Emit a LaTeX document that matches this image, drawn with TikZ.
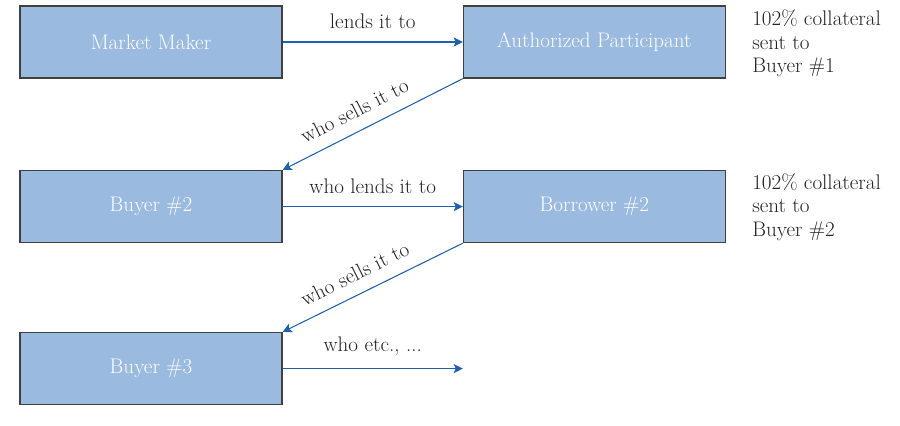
\documentclass[tikz,border=0pt]{standalone}
\usepackage{tikz}
\usetikzlibrary{arrows.meta, positioning}
\definecolor{BoxBlue}{HTML}{9BBADF}
\definecolor{BoxEdge}{HTML}{404040}
\definecolor{FlowBlue}{HTML}{1D62AE}
\definecolor{LabelGray}{HTML}{222222}
\tikzset{
  partybox/.style={rectangle, draw=BoxEdge, line width=0.9pt, fill=BoxBlue, text=white, minimum width=6.55cm, minimum height=1.8cm, font=\fontsize{15}{17}\selectfont, align=center, inner sep=0pt},
  flowarrow/.style={-{Stealth[length=6.5pt,width=6.5pt,inset=1.5pt]}, line width=0.75pt, FlowBlue},
  flowlabel/.style={font=\fontsize{15}{17}\selectfont, text=LabelGray},
  notetext/.style={font=\fontsize{15}{16.7}\selectfont, text=LabelGray, align=left, anchor=north west, inner sep=0pt}
}

\begin{document}
\begin{tikzpicture}
  \useasboundingbox (0,0) rectangle (22.5,10.625);

  % Lending chain
  \node[partybox] (maker) at (3.775,9.575) {Market Maker};
  \node[partybox] (ap) at (14.86,9.575) {Authorized Participant};
  \node[partybox] (buyerB) at (3.775,5.46) {Buyer \#2};
  \node[partybox] (borrowB) at (14.86,5.46) {Borrower \#2};
  \node[partybox] (buyerC) at (3.775,1.41) {Buyer \#3};
  \coordinate (etcEnd) at (buyerC.east -| borrowB.west);

  \draw[flowarrow] (maker.east) -- node[flowlabel, above=5.5pt] {lends it to} (ap.west);
  \draw[flowarrow] (ap.south west) -- node[flowlabel, pos=0.55, above=5.5pt, sloped] {who sells it to} (buyerB.north east);
  \draw[flowarrow] (buyerB.east) -- node[flowlabel, above=5.5pt] {who lends it to} (borrowB.west);
  \draw[flowarrow] (borrowB.south west) -- node[flowlabel, pos=0.55, above=5.5pt, sloped] {who sells it to} (buyerC.north east);
  \draw[flowarrow] (buyerC.east) -- node[flowlabel, above=5.5pt] {who etc., ...} (etcEnd);

  % Collateral notes
  \node[notetext] (noteA) at (18.8,10.38) {102\% collateral\\sent to\\Buyer \#1};
  \node[notetext] (noteB) at (18.8,6.3) {102\% collateral\\sent to\\Buyer \#2};
\end{tikzpicture}
\end{document}
